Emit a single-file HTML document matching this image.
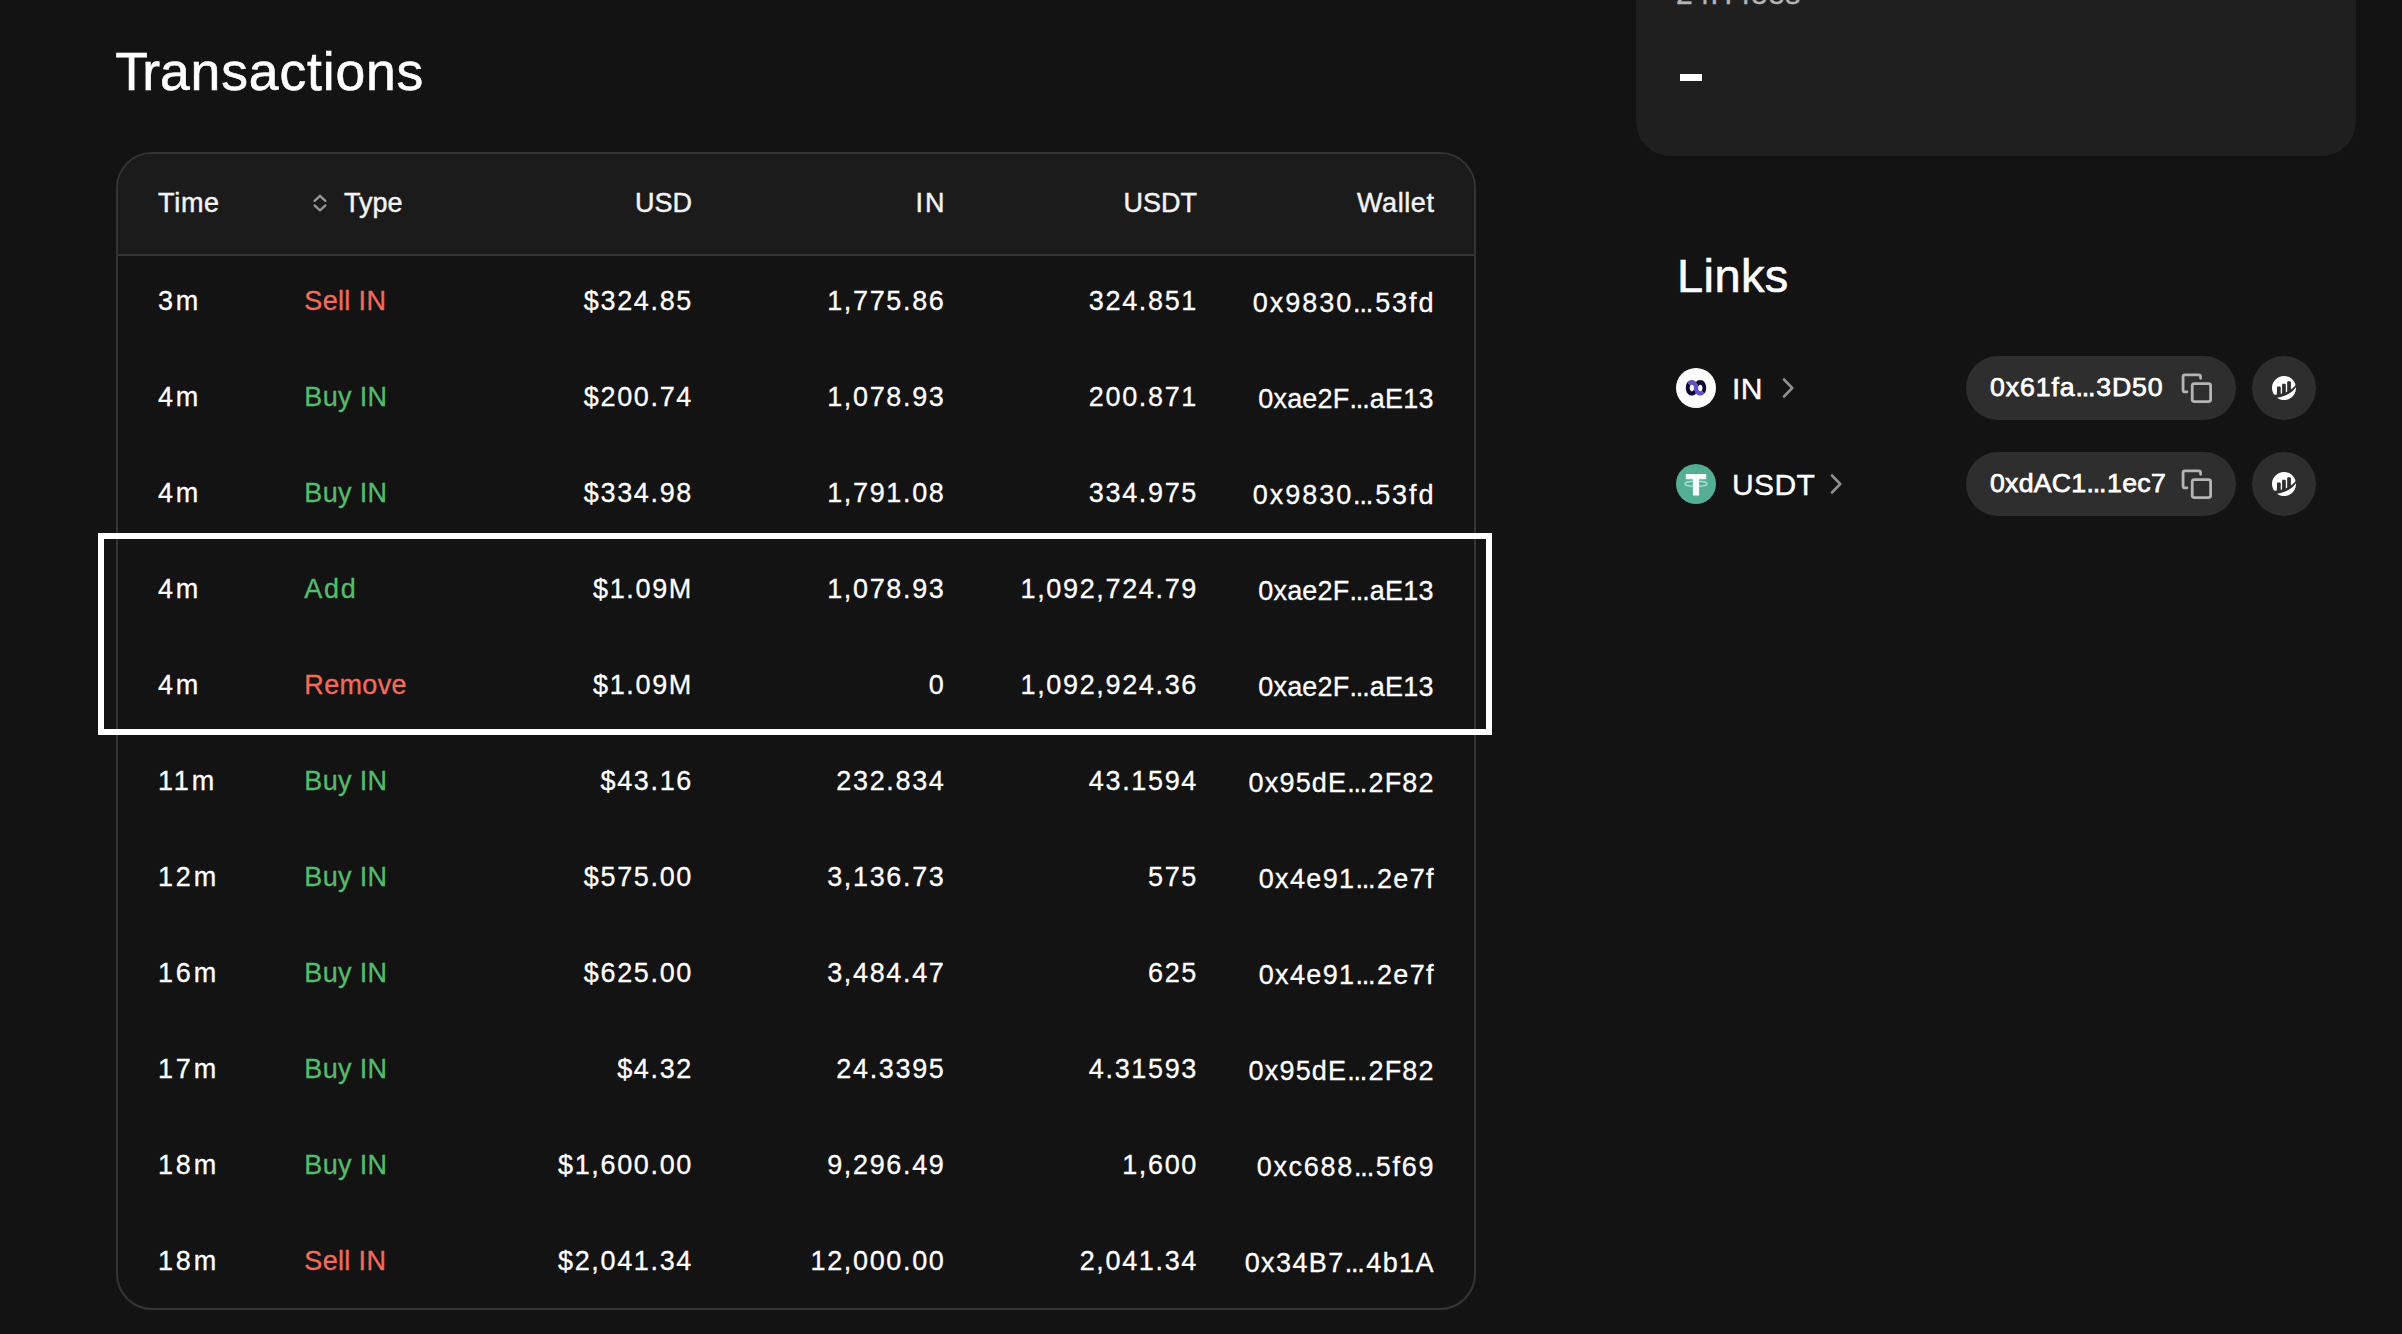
<!DOCTYPE html>
<html lang="en">
<head>
<meta charset="utf-8">
<title>Transactions</title>
<style>
  html, body { margin: 0; padding: 0; }
  body {
    width: 2402px; height: 1334px; overflow: hidden; position: relative;
    background: #131313; color: #ffffff;
    font-family: "Liberation Sans", sans-serif;
    -webkit-font-smoothing: antialiased;
  }
  .abs { position: absolute; }
  h1.title {
    position: absolute; left: 115.3px; top: 40.5px; margin: 0;
    font-size: 53.5px; line-height: 62px; font-weight: 400; color: #fff;
    white-space: nowrap; letter-spacing: 0; -webkit-text-stroke: 0.6px #fff;
  }
  h1.title .k { margin-left: -5.8px; }
  h1.title .sp { letter-spacing: 0.84px; }
  /* table */
  .tbl {
    position: absolute; left: 116px; top: 152px; width: 1356px; height: 1154px;
    border: 2px solid #353535; border-radius: 36px; background: #131313;
    overflow: hidden;
  }
  .thead {
    position: absolute; left: 0; top: 0; width: 100%; height: 100px;
    background: #1b1b1b; border-bottom: 2px solid #353535;
  }
  .row { position: absolute; left: 0; width: 100%; height: 96px; line-height: 96px; font-size: 27px; white-space: nowrap; -webkit-text-stroke: 0.3px currentColor; }
  .thead .row { top: 1px; color: #f3f3f3; -webkit-text-stroke: 0.45px #f3f3f3; }
  .c { position: absolute; top: 0; }
  .c-time { left: 40px; letter-spacing: 2.8px; }
  .c-type { left: 186.3px; letter-spacing: 0.35px; }
  .num { text-align: right; letter-spacing: 1.65px; }
  .el { letter-spacing: -1.2px; margin-right: calc(1.2px + var(--ls)); }
  .c-usd  { right: 781px; }
  .c-in   { right: 528.5px; }
  .c-usdt { right: 276px; }
  .c-wal  { right: 39.4px; --ls: 1.05px; letter-spacing: var(--ls); margin-right: calc(1.05px - var(--ls)); top: 2px; }
  .thead .c { letter-spacing: 0; }
  .thead .c-usd  { right: 782px; }
  .thead .c-in   { right: 529.5px; }
  .thead .c-usdt { right: 277px; }
  .thead .c-wal  { right: 40px; top: 0; }
  .buy { color: #52be6c; }
  .sell { color: #f46b59; }
  .hl {
    position: absolute; left: 98px; top: 533px; width: 1382px; height: 189.5px;
    border: 6px solid #ffffff; box-sizing: content-box;
  }
  /* right panel */
  .card {
    position: absolute; left: 1636px; top: -120px; width: 720px; height: 276px;
    background: #1f1f1f; border-radius: 34px;
  }
  .fees { position: absolute; left: 1676px; top: -21px; font-size: 30px; line-height: 30px; color: #b4b4b4; white-space: nowrap; letter-spacing: 0.6px; -webkit-text-stroke: 0.4px #b4b4b4; }
  .dash { position: absolute; left: 1680px; top: 74px; width: 22px; height: 7px; background: #fff; color: #fff; font-size: 6px; line-height: 7px; overflow: hidden; text-align: center; }
  h2.links {
    position: absolute; left: 1677px; top: 247.5px; margin: 0; font-weight: 400;
    font-size: 47px; line-height: 56px; white-space: nowrap; letter-spacing: 0.4px; -webkit-text-stroke: 0.6px #fff;
  }
  .tok { position: absolute; left: 1676px; height: 40px; line-height: 40px; font-size: 30px; white-space: nowrap; }
  .tok svg.logo { position: absolute; left: 0; top: 0; }
  .tok .nm { position: absolute; left: 56px; top: 1px; letter-spacing: 0.4px; -webkit-text-stroke: 0.4px #fff; }
  .pill {
    position: absolute; left: 1966px; width: 270px; height: 64px; border-radius: 32px;
    background: #2e2e2e; font-size: 26.7px; line-height: 64px; white-space: nowrap;
  }
  .pill .addr { position: absolute; left: 24px; top: -1px; letter-spacing: 0.45px; -webkit-text-stroke: 0.75px #fff; }
  .pe { letter-spacing: -1.2px; margin-right: 2px; }
  .pill svg { position: absolute; left: 213.8px; top: 15.3px; }
  .circ {
    position: absolute; left: 2252px; width: 64px; height: 64px; border-radius: 32px; background: #2e2e2e;
  }
  .circ svg { position: absolute; left: 20px; top: 20px; }
</style>
</head>
<body>

<h1 class="title">T<span class="k">r</span><span class="sp">ansactions</span></h1>

<div class="tbl">
  <div class="thead">
    <div class="row">
      <span class="c c-time" style="letter-spacing:0.7px">Time</span>
      <svg class="abs" style="left:193px;top:38px" width="20" height="24" viewBox="0 0 20 24" fill="none" stroke="#969696" stroke-width="2.3" stroke-linecap="round" stroke-linejoin="round"><path d="M3.6 7.9 L9 2.8 L14.4 7.9"/><path d="M3.6 12.4 L9 17.5 L14.4 12.4"/></svg>
      <span class="c" style="left:226px">Type</span>
      <span class="c c-usd">USD</span>
      <span class="c c-in" style="letter-spacing:2px;margin-right:-2px">IN</span>
      <span class="c c-usdt">USDT</span>
      <span class="c c-wal" style="letter-spacing:0.6px;margin-right:-0.6px">Wallet</span>
    </div>
  </div>
  <div class="row" style="top:98.5px">
    <span class="c c-time">3m</span>
    <span class="c c-type sell">Sell IN</span>
    <span class="c c-usd num">$324.85</span>
    <span class="c c-in num">1,775.86</span>
    <span class="c c-usdt num">324.851</span>
    <span class="c c-wal num" style="--ls:1.945px">0x9830<span class="el">...</span>53fd</span>
  </div>
  <div class="row" style="top:194.5px">
    <span class="c c-time">4m</span>
    <span class="c c-type buy">Buy IN</span>
    <span class="c c-usd num">$200.74</span>
    <span class="c c-in num">1,078.93</span>
    <span class="c c-usdt num">200.871</span>
    <span class="c c-wal num" style="--ls:0.215px">0xae2F<span class="el">...</span>aE13</span>
  </div>
  <div class="row" style="top:290.5px">
    <span class="c c-time">4m</span>
    <span class="c c-type buy">Buy IN</span>
    <span class="c c-usd num">$334.98</span>
    <span class="c c-in num">1,791.08</span>
    <span class="c c-usdt num">334.975</span>
    <span class="c c-wal num" style="--ls:1.945px">0x9830<span class="el">...</span>53fd</span>
  </div>
  <div class="row" style="top:386.5px">
    <span class="c c-time">4m</span>
    <span class="c c-type buy" style="letter-spacing:1.7px">Add</span>
    <span class="c c-usd num">$1.09M</span>
    <span class="c c-in num">1,078.93</span>
    <span class="c c-usdt num">1,092,724.79</span>
    <span class="c c-wal num" style="--ls:0.215px">0xae2F<span class="el">...</span>aE13</span>
  </div>
  <div class="row" style="top:482.5px">
    <span class="c c-time">4m</span>
    <span class="c c-type sell">Remove</span>
    <span class="c c-usd num">$1.09M</span>
    <span class="c c-in num">0</span>
    <span class="c c-usdt num">1,092,924.36</span>
    <span class="c c-wal num" style="--ls:0.215px">0xae2F<span class="el">...</span>aE13</span>
  </div>
  <div class="row" style="top:578.5px">
    <span class="c c-time">11m</span>
    <span class="c c-type buy">Buy IN</span>
    <span class="c c-usd num">$43.16</span>
    <span class="c c-in num">232.834</span>
    <span class="c c-usdt num">43.1594</span>
    <span class="c c-wal num" style="--ls:1.175px">0x95dE<span class="el">...</span>2F82</span>
  </div>
  <div class="row" style="top:674.5px">
    <span class="c c-time">12m</span>
    <span class="c c-type buy">Buy IN</span>
    <span class="c c-usd num">$575.00</span>
    <span class="c c-in num">3,136.73</span>
    <span class="c c-usdt num">575</span>
    <span class="c c-wal num" style="--ls:1.355px">0x4e91<span class="el">...</span>2e7f</span>
  </div>
  <div class="row" style="top:770.5px">
    <span class="c c-time">16m</span>
    <span class="c c-type buy">Buy IN</span>
    <span class="c c-usd num">$625.00</span>
    <span class="c c-in num">3,484.47</span>
    <span class="c c-usdt num">625</span>
    <span class="c c-wal num" style="--ls:1.355px">0x4e91<span class="el">...</span>2e7f</span>
  </div>
  <div class="row" style="top:866.5px">
    <span class="c c-time">17m</span>
    <span class="c c-type buy">Buy IN</span>
    <span class="c c-usd num">$4.32</span>
    <span class="c c-in num">24.3395</span>
    <span class="c c-usdt num">4.31593</span>
    <span class="c c-wal num" style="--ls:1.175px">0x95dE<span class="el">...</span>2F82</span>
  </div>
  <div class="row" style="top:962.5px">
    <span class="c c-time">18m</span>
    <span class="c c-type buy">Buy IN</span>
    <span class="c c-usd num">$1,600.00</span>
    <span class="c c-in num">9,296.49</span>
    <span class="c c-usdt num">1,600</span>
    <span class="c c-wal num" style="--ls:1.715px">0xc688<span class="el">...</span>5f69</span>
  </div>
  <div class="row" style="top:1058.5px">
    <span class="c c-time">18m</span>
    <span class="c c-type sell">Sell IN</span>
    <span class="c c-usd num">$2,041.34</span>
    <span class="c c-in num">12,000.00</span>
    <span class="c c-usdt num">2,041.34</span>
    <span class="c c-wal num" style="--ls:1.415px">0x34B7<span class="el">...</span>4b1A</span>
  </div>
</div>

<div class="hl"></div>

<div class="card"></div>
<div class="fees">24H fees</div>
<div class="dash">–</div>

<h2 class="links">Links</h2>

<!-- IN row -->
<div class="tok" style="top:368px">
  <svg class="logo" width="40" height="40" viewBox="0 0 40 40">
    <circle cx="20" cy="20" r="20" fill="#fdfdfd"/>
    <defs>
      <linearGradient id="gl" x1="1" y1="0" x2="0" y2="1"><stop offset="0.5" stop-color="#5d53c6"/><stop offset="0.5" stop-color="#120a2e"/></linearGradient>
      <linearGradient id="gr" x1="1" y1="0" x2="0" y2="1"><stop offset="0.5" stop-color="#120a2e"/><stop offset="0.5" stop-color="#5d53c6"/></linearGradient>
    </defs>
    <g fill-rule="evenodd">
      <path fill="url(#gr)" d="M18.2 19.8 C18.2 15.4 20.6 12 24.2 12 C27.8 12 30.2 15.4 30.2 19.8 C30.2 24.2 27.8 27.6 24.2 27.6 C20.6 27.6 18.2 24.2 18.2 19.8 Z M22.1 19.9 C22.1 21.8 23 23.2 24.3 23.2 C25.6 23.2 26.5 21.8 26.5 19.9 C26.5 18 25.6 16.7 24.3 16.7 C23 16.7 22.1 18 22.1 19.9 Z"/>
      <path fill="url(#gl)" d="M9.8 19.8 C9.8 15.4 12.2 12 15.8 12 C19.4 12 21.8 15.4 21.8 19.8 C21.8 24.2 19.4 27.6 15.8 27.6 C12.2 27.6 9.8 24.2 9.8 19.8 Z M13.7 20.1 C13.7 22 14.6 23.4 15.9 23.4 C17.2 23.4 18.1 22 18.1 20.1 C18.1 18.2 17.2 16.8 15.9 16.8 C14.6 16.8 13.7 18.2 13.7 20.1 Z"/>
    </g>
  </svg>
  <span class="nm">IN</span>
  <svg class="abs" style="left:100px;top:8px" width="24" height="24" viewBox="0 0 24 24" fill="none" stroke="#8f8f8f" stroke-width="2.6" stroke-linecap="round" stroke-linejoin="round"><path d="M8 3.5 L16.2 12 L8 20.5"/></svg>
</div>
<div class="pill" style="top:356px">
  <span class="addr" style="letter-spacing:0.9px">0x61fa<span class="pe">...</span>3D50</span>
  <svg width="33.4" height="33.4" viewBox="0 0 24 24" fill="none" stroke="#b4b4b4" stroke-width="2" stroke-linecap="round" stroke-linejoin="round"><rect x="8.8" y="9" width="13.2" height="13" rx="1.5" ry="1.5"/><path d="M5 15H3.6a1.4 1.4 0 0 1-1.4-1.4V4.2a1.4 1.4 0 0 1 1.4-1.4h9.8a1.4 1.4 0 0 1 1.4 1.4v1"/></svg>
</div>
<div class="circ" style="top:356px">
  <svg width="24" height="24" viewBox="0 0 293.775 293.671"><path fill="#fff" d="M61.055,139.819a12.450,12.450,0,0,1,12.508-12.452l20.737.068a12.467,12.467,0,0,1,12.467,12.467v78.414c2.336-.692,5.332-1.430,8.614-2.200a10.389,10.389,0,0,0,8.009-10.110V108.736a12.469,12.469,0,0,1,12.468-12.470h20.779a12.470,12.470,0,0,1,12.467,12.467v90.279s5.200-2.106,10.269-4.245a10.408,10.408,0,0,0,6.353-9.577V77.567a12.466,12.466,0,0,1,12.466-12.467h20.780a12.468,12.468,0,0,1,12.468,12.467v88.625c18.016-13.057,36.274-28.761,50.763-47.644a20.926,20.926,0,0,0,3.185-19.537A146.600,146.600,0,0,0,148.737.010C67.300-1.084-.007,65.400.001,146.850a146.371,146.371,0,0,0,19.500,73.450,18.560,18.560,0,0,0,17.707,9.173c3.931-.346,8.825-.835,14.643-1.518a10.383,10.383,0,0,0,9.209-10.306V139.819"/><path fill="#fff" d="M60.603,265.577a146.808,146.808,0,0,0,233.172-118.746c0-3.381-.157-6.724-.383-10.049-53.642,80-152.686,117.405-232.790,128.793"/></svg>
</div>

<!-- USDT row -->
<div class="tok" style="top:464px">
  <svg class="logo" width="40" height="40" viewBox="0 0 40 40">
    <circle cx="20" cy="20" r="20" fill="#53ae94"/>
    <ellipse cx="20" cy="19.8" rx="11.2" ry="2.6" fill="none" stroke="#a6dccb" stroke-width="1.5"/>
    <path d="M9.8 10 H30.2 V15.2 H23.1 V31.6 H16.9 V15.2 H9.8 Z" fill="#f4fffb"/>
  </svg>
  <span class="nm">USDT</span>
  <svg class="abs" style="left:148px;top:8px" width="24" height="24" viewBox="0 0 24 24" fill="none" stroke="#8f8f8f" stroke-width="2.6" stroke-linecap="round" stroke-linejoin="round"><path d="M8 3.5 L16.2 12 L8 20.5"/></svg>
</div>
<div class="pill" style="top:452px">
  <span class="addr" style="letter-spacing:0.25px">0xdAC1<span class="pe">...</span>1ec7</span>
  <svg width="33.4" height="33.4" viewBox="0 0 24 24" fill="none" stroke="#b4b4b4" stroke-width="2" stroke-linecap="round" stroke-linejoin="round"><rect x="8.8" y="9" width="13.2" height="13" rx="1.5" ry="1.5"/><path d="M5 15H3.6a1.4 1.4 0 0 1-1.4-1.4V4.2a1.4 1.4 0 0 1 1.4-1.4h9.8a1.4 1.4 0 0 1 1.4 1.4v1"/></svg>
</div>
<div class="circ" style="top:452px">
  <svg width="24" height="24" viewBox="0 0 293.775 293.671"><path fill="#fff" d="M61.055,139.819a12.450,12.450,0,0,1,12.508-12.452l20.737.068a12.467,12.467,0,0,1,12.467,12.467v78.414c2.336-.692,5.332-1.430,8.614-2.200a10.389,10.389,0,0,0,8.009-10.110V108.736a12.469,12.469,0,0,1,12.468-12.470h20.779a12.470,12.470,0,0,1,12.467,12.467v90.279s5.200-2.106,10.269-4.245a10.408,10.408,0,0,0,6.353-9.577V77.567a12.466,12.466,0,0,1,12.466-12.467h20.780a12.468,12.468,0,0,1,12.468,12.467v88.625c18.016-13.057,36.274-28.761,50.763-47.644a20.926,20.926,0,0,0,3.185-19.537A146.600,146.600,0,0,0,148.737.010C67.300-1.084-.007,65.400.001,146.850a146.371,146.371,0,0,0,19.500,73.450,18.560,18.560,0,0,0,17.707,9.173c3.931-.346,8.825-.835,14.643-1.518a10.383,10.383,0,0,0,9.209-10.306V139.819"/><path fill="#fff" d="M60.603,265.577a146.808,146.808,0,0,0,233.172-118.746c0-3.381-.157-6.724-.383-10.049-53.642,80-152.686,117.405-232.790,128.793"/></svg>
</div>

</body>
</html>
